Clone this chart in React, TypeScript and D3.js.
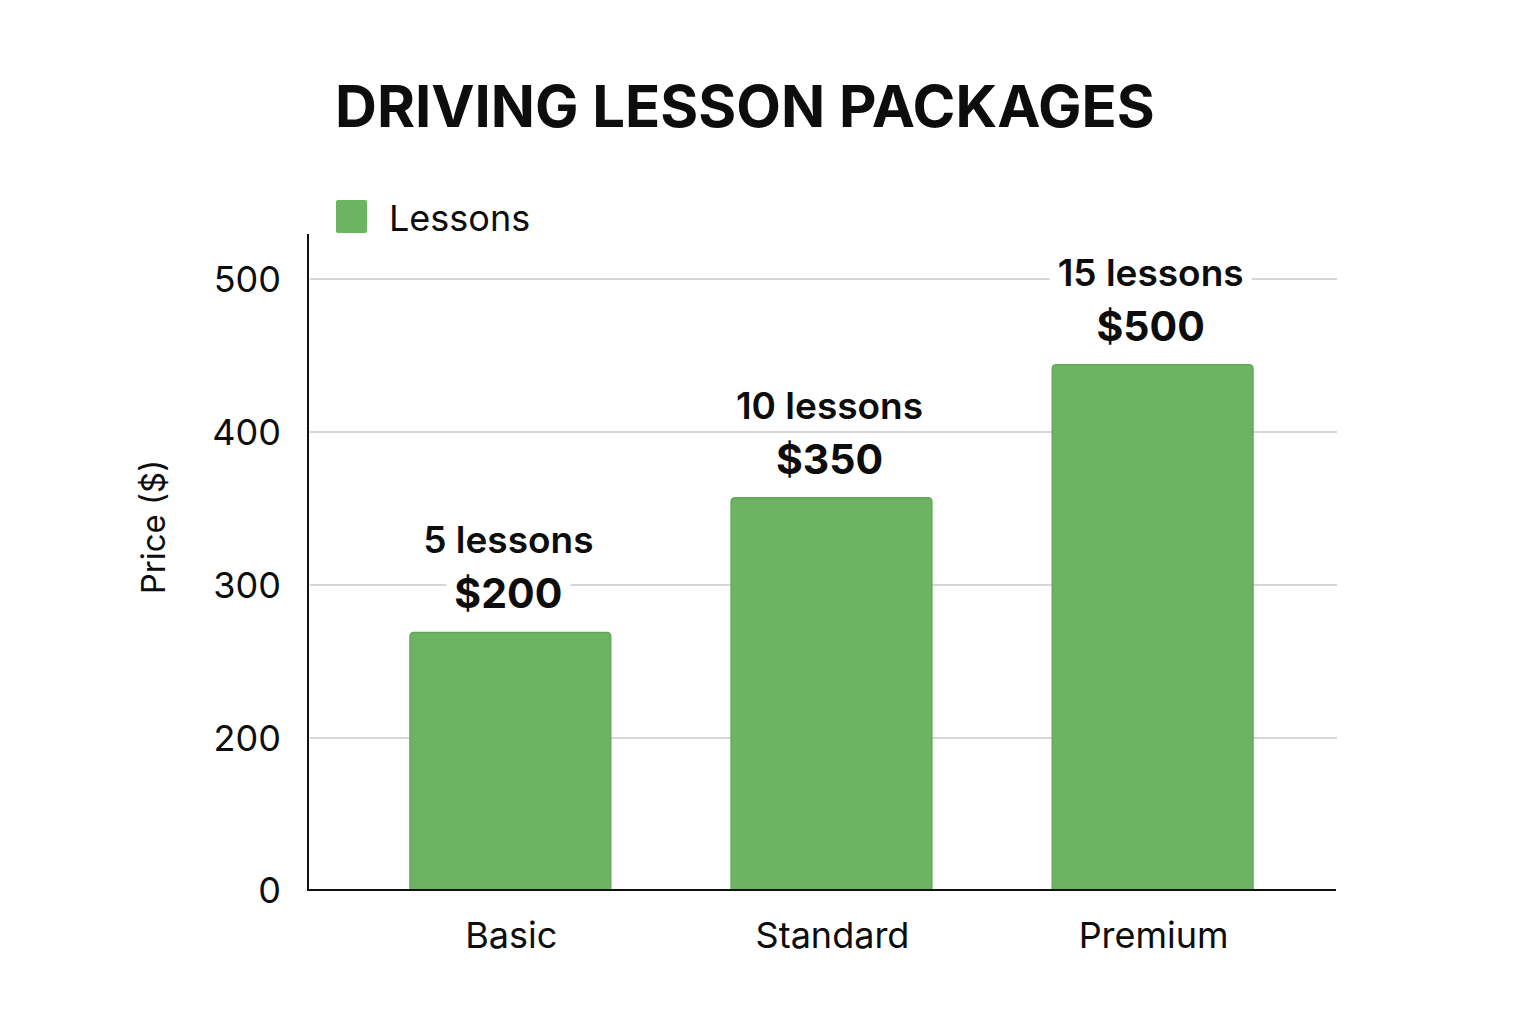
import { useEffect, useRef } from "react"
import * as d3 from "d3"

// package data
const packages = ["Basic", "Standard", "Premium"]
const lessonCounts = ["5 lessons", "10 lessons", "15 lessons"]
const priceLabels = ["$200", "$350", "$500"]
// bar tops as they sit against the (uneven) y axis
const barValues = [269, 357, 444]
const yTicks = [0, 200, 300, 400, 500]

const App = () => {
  const svgRef = useRef<SVGSVGElement>(null)

  useEffect(() => {
    if (!svgRef.current) return
    document.body.style.margin = "0"

    const svg = d3.select(svgRef.current)
    svg.selectAll("*").remove()

    const width = 1536
    const height = 1024
    const font = "Inter, 'Noto Sans', sans-serif"
    const green = "#6cb362"

    // x: axis runs 308..1336, bars occupy 410..1252
    const axisLeft = 308
    const axisRight = 1336
    const xScale = d3.scaleBand().domain(packages).range([410, 1253]).paddingInner(0.375).paddingOuter(0)

    // y: the 0 tick is squeezed against 200, the rest are evenly spaced
    const yScale = d3.scaleLinear().domain([0, 200, 500]).range([890, 738, 279])
    const yTop = 234

    svg.append("rect").attr("width", width).attr("height", height).attr("fill", "#ffffff")

    // Title
    svg
      .append("text")
      .attr("x", 335)
      .attr("y", 127)
      .attr("font-family", font)
      .attr("font-weight", 700)
      .attr("font-size", 58)
      .attr("fill", "#0d0d0d")
      .text("DRIVING LESSON PACKAGES")

    // Legend
    svg.append("rect").attr("x", 336).attr("y", 200).attr("width", 31).attr("height", 33).attr("rx", 2).attr("fill", green)
    svg
      .append("text")
      .attr("x", 389)
      .attr("y", 231)
      .attr("font-family", font)
      .attr("font-size", 36)
      .attr("fill", "#0d0d0d")
      .text("Lessons")

    // Gridlines
    svg
      .append("g")
      .selectAll("line")
      .data(yTicks.filter((t) => t > 0))
      .enter()
      .append("line")
      .attr("x1", axisLeft + 2)
      .attr("x2", axisRight + 1)
      .attr("y1", (d) => yScale(d))
      .attr("y2", (d) => yScale(d))
      .attr("stroke", "#d6d6d6")
      .attr("stroke-width", 2)

    // Y tick labels
    svg
      .append("g")
      .selectAll("text")
      .data(yTicks)
      .enter()
      .append("text")
      .attr("x", 281)
      .attr("y", (d) => yScale(d))
      .attr("dy", "0.36em")
      .attr("text-anchor", "end")
      .attr("font-family", font)
      .attr("font-size", 36)
      .attr("fill", "#0d0d0d")
      .text((d) => d)

    // Y axis label
    svg
      .append("text")
      .attr("transform", `translate(165, 527) rotate(-90)`)
      .attr("text-anchor", "middle")
      .attr("font-family", font)
      .attr("font-size", 33)
      .attr("fill", "#0d0d0d")
      .text("Price ($)")

    // Bars
    svg
      .append("g")
      .selectAll("path")
      .data(packages)
      .enter()
      .append("path")
      .attr("d", (d, i) => {
        const x0 = xScale(d) || 0
        const x1 = x0 + xScale.bandwidth()
        const y0 = yScale(barValues[i])
        const y1 = yScale(0)
        const r = 4
        return `M${x0},${y1}V${y0 + r}Q${x0},${y0} ${x0 + r},${y0}H${x1 - r}Q${x1},${y0} ${x1},${y0 + r}V${y1}Z`
      })
      .attr("fill", green)
      .attr("stroke", "#62a858")
      .attr("stroke-width", 1.5)

    // Value labels with white backing
    const labels = svg.append("g")
    packages.forEach((p, i) => {
      const cx = (xScale(p) || 0) + xScale.bandwidth() / 2 - 2
      const top = yScale(barValues[i])
      const lines = [
        { text: lessonCounts[i], y: top - 79, size: 37, weight: 600 },
        { text: priceLabels[i], y: top - 24, size: 41, weight: 700 },
      ]
      lines.forEach((l) => {
        const t = labels
          .append("text")
          .attr("x", cx)
          .attr("y", l.y)
          .attr("text-anchor", "middle")
          .attr("font-family", font)
          .attr("font-size", l.size)
          .attr("font-weight", l.weight)
          .attr("fill", "#0d0d0d")
          .text(l.text)
        const box = (t.node() as SVGTextElement).getBBox()
        labels
          .insert("rect", () => t.node() as SVGTextElement)
          .attr("x", box.x - 8)
          .attr("y", box.y)
          .attr("width", box.width + 16)
          .attr("height", box.height)
          .attr("fill", "#ffffff")
      })
    })

    // Axes lines
    svg
      .append("line")
      .attr("x1", axisLeft)
      .attr("x2", axisLeft)
      .attr("y1", yTop)
      .attr("y2", yScale(0) + 1)
      .attr("stroke", "#111")
      .attr("stroke-width", 2)
    svg
      .append("line")
      .attr("x1", axisLeft - 1)
      .attr("x2", axisRight)
      .attr("y1", yScale(0))
      .attr("y2", yScale(0))
      .attr("stroke", "#111")
      .attr("stroke-width", 2)

    // X category labels
    svg
      .append("g")
      .selectAll("text")
      .data(packages)
      .enter()
      .append("text")
      .attr("x", (d) => (xScale(d) || 0) + xScale.bandwidth() / 2 + 1)
      .attr("y", 948)
      .attr("text-anchor", "middle")
      .attr("font-family", font)
      .attr("font-size", 36)
      .attr("fill", "#0d0d0d")
      .text((d) => d)
  }, [])

  return <svg ref={svgRef} width={1536} height={1024} style={{ display: "block" }}></svg>
}

export default App
